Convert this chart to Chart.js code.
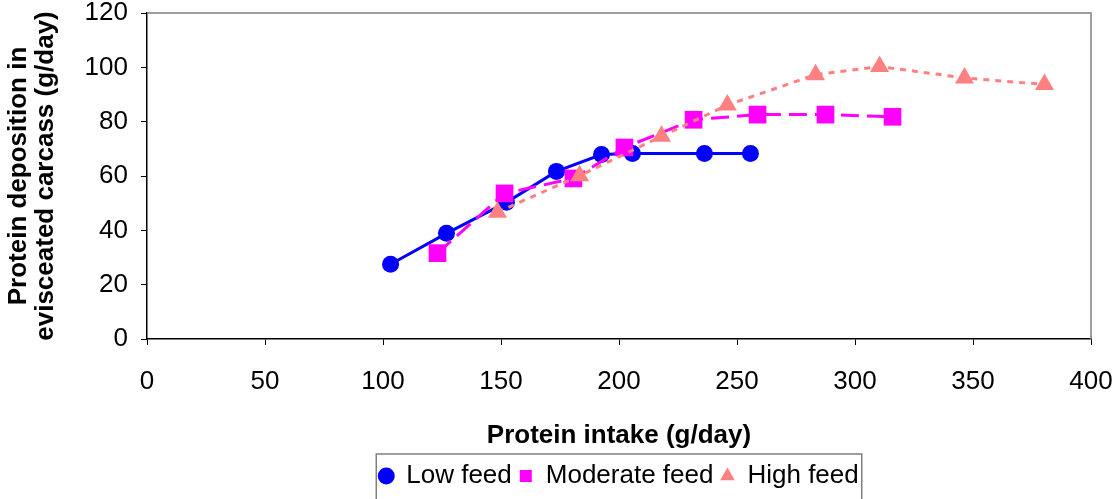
<!DOCTYPE html>
<html>
<head>
<meta charset="utf-8">
<script src="https://cdn.jsdelivr.net/npm/chart.js@4"></script>
<style>
  html, body { margin: 0; padding: 0; background: #fff; }
  #wrap { width: 1115px; height: 499px; }
</style>
</head>
<body>
<div id="wrap"><canvas id="proteinChart"></canvas></div>
<script>
const seriesNames = ["Low feed", "Moderate feed", "High feed"];

const lowIntake = [103.2, 126.9, 152.3, 173.5, 192.6, 205.7, 236.2, 255.7];
const lowDeposition = [27.5, 38.9, 50.3, 61.7, 67.9, 68.3, 68.3, 68.3];

const moderateIntake = [123.1, 151.5, 180.7, 202.3, 231.6, 258.7, 287.5, 315.9];
const moderateDeposition = [31.6, 53.6, 59.1, 70.5, 80.7, 82.6, 82.6, 81.8];

const highIntake = [148.5, 183.3, 218.0, 245.9, 283.3, 310.4, 346.4, 380.3];
const highDeposition = [46.7, 60.1, 74.6, 86.1, 97.3, 100.3, 96.1, 93.7];

const xTitle = "Protein intake (g/day)";
const yTitle = ["Protein deposition in", "evisceated carcass (g/day)"];

const FONT = "Arial, 'Liberation Sans', sans-serif";

function toPoints(xs, ys) {
  return xs.map((x, i) => ({ x: x, y: ys[i] }));
}

// grey frame on top and right, box round the legend
const framePlugin = {
  id: "frame",
  afterDraw(chart) {
    const { ctx, chartArea } = chart;
    ctx.save();
    ctx.strokeStyle = "#808080";
    ctx.lineWidth = 1.5;
    ctx.beginPath();
    ctx.moveTo(chartArea.left, chartArea.top);
    ctx.lineTo(chartArea.right, chartArea.top);
    ctx.lineTo(chartArea.right, chartArea.bottom);
    ctx.stroke();

    const boxes = chart.legend.legendHitBoxes;
    if (boxes && boxes.length) {
      const left = Math.min(...boxes.map((b) => b.left)) - 3;
      const right = Math.max(...boxes.map((b) => b.left + b.width)) + 3;
      ctx.strokeRect(left, chart.legend.top - 2, right - left, chart.height);
    }
    ctx.restore();
  },
};

const ctx = document.getElementById("proteinChart").getContext("2d");

new Chart(ctx, {
  type: "line",
  data: {
    datasets: [
      {
        label: seriesNames[0],
        data: toPoints(lowIntake, lowDeposition),
        borderColor: "#0000ff",
        backgroundColor: "#0000ff",
        borderWidth: 3,
        pointStyle: "circle",
        pointRadius: 8.5,
        pointBorderWidth: 0,
        order: 3,
      },
      {
        label: seriesNames[1],
        data: toPoints(moderateIntake, moderateDeposition),
        borderColor: "#ff00ff",
        backgroundColor: "#ff00ff",
        borderWidth: 3,
        borderDash: [18, 8],
        pointStyle: "rect",
        pointRadius: 12.5,
        pointBorderWidth: 0,
        order: 2,
      },
      {
        label: seriesNames[2],
        data: toPoints(highIntake, highDeposition),
        borderColor: "#ff8080",
        backgroundColor: "#ff8080",
        borderWidth: 3,
        borderDash: [6, 6],
        pointStyle: "triangle",
        pointRadius: 11,
        pointBorderWidth: 0,
        order: 1,
      },
    ],
  },
  options: {
    responsive: true,
    maintainAspectRatio: false,
    animation: false,
    layout: { padding: { left: 0, right: 24, top: 13, bottom: 0 } },
    scales: {
      x: {
        type: "linear",
        min: 0,
        max: 400,
        ticks: {
          stepSize: 50,
          padding: 24,
          color: "#000",
          font: { family: FONT, size: 26, lineHeight: 1 },
        },
        grid: {
          display: true,
          drawOnChartArea: false,
          drawTicks: true,
          tickLength: 6,
          color: "#000",
        },
        border: { display: true, color: "#000", width: 1.5 },
        title: {
          display: true,
          text: xTitle,
          color: "#000",
          font: { family: FONT, size: 26, weight: "bold", lineHeight: 1.1 },
          padding: { top: 0, bottom: 6 },
        },
        afterFit(scale) {
          scale.height = 117;
          scale.paddingLeft = 0;
          scale.paddingRight = 0;
        },
      },
      y: {
        min: 0,
        max: 120,
        ticks: {
          stepSize: 20,
          padding: 13,
          color: "#000",
          font: { family: FONT, size: 26, lineHeight: 1 },
        },
        grid: {
          display: true,
          drawOnChartArea: false,
          drawTicks: true,
          tickLength: 6,
          color: "#000",
        },
        border: { display: true, color: "#000", width: 1.5 },
        title: {
          display: true,
          text: yTitle,
          color: "#000",
          font: { family: FONT, size: 26, weight: "bold", lineHeight: 1.04 },
          padding: { top: 5.5, bottom: 0 },
        },
        afterFit(scale) {
          scale.width = 147;
          scale.paddingTop = 0;
          scale.paddingBottom = 0;
        },
      },
    },
    plugins: {
      legend: {
        position: "bottom",
        fullSize: false,
        labels: {
          usePointStyle: true,
          boxWidth: 14,
          boxHeight: 12,
          padding: 7,
          color: "#000",
          font: { family: FONT, size: 26 },
          sort: (a, b) => a.datasetIndex - b.datasetIndex,
        },
      },
      tooltip: { enabled: false },
    },
  },
  plugins: [framePlugin],
});
</script>
</body>
</html>
